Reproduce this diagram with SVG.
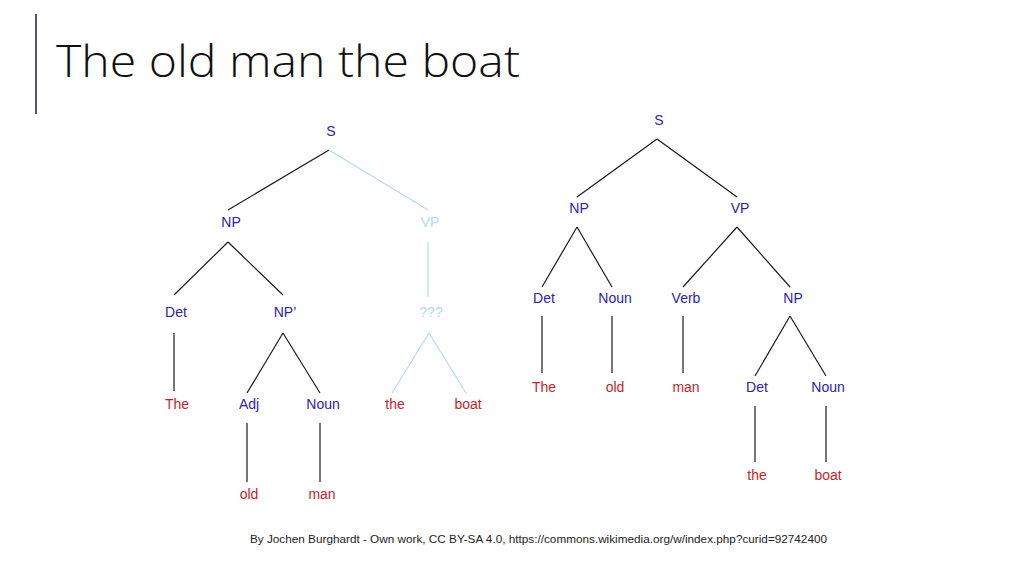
<svg xmlns="http://www.w3.org/2000/svg" width="1024" height="576" viewBox="0 0 1024 576">
<style>
.lbl{font-family:"Liberation Sans","DejaVu Sans",sans-serif;font-size:14px;text-anchor:middle}
.cat{fill:#2b22b4}
.word{fill:#c81e2a}
.ghost{fill:#b4dcea}
.e{stroke:#1a1a1a;stroke-width:1.2;fill:none}
.eg{stroke:#b4dcea;stroke-width:1.2;fill:none}
</style>
<rect width="1024" height="576" fill="#ffffff"/>
<line x1="36" y1="14" x2="36" y2="114" stroke="#58508e" stroke-width="2"/>
<text x="56" y="77" font-family="'Open Sans','Noto Sans',sans-serif" font-weight="350" font-size="44" fill="#111111" textLength="464" lengthAdjust="spacingAndGlyphs">The old man the boat</text>

<g id="connectors">
<!-- left tree -->
<line class="e" x1="329" y1="150" x2="228" y2="210"/>
<line class="eg" x1="329" y1="150" x2="428" y2="210"/>
<line class="e" x1="228" y1="242" x2="174" y2="295"/>
<line class="e" x1="228" y1="242" x2="283" y2="295"/>
<line class="eg" x1="428" y1="242" x2="428" y2="297"/>
<line class="e" x1="174" y1="333" x2="174" y2="391"/>
<line class="e" x1="283" y1="333" x2="247" y2="393"/>
<line class="e" x1="283" y1="333" x2="320" y2="393"/>
<line class="eg" x1="429" y1="333" x2="392" y2="393"/>
<line class="eg" x1="429" y1="333" x2="466" y2="393"/>
<line class="e" x1="247" y1="423" x2="247" y2="482"/>
<line class="e" x1="320" y1="423" x2="320" y2="482"/>
<!-- right tree -->
<line class="e" x1="657" y1="139" x2="577" y2="197"/>
<line class="e" x1="657" y1="139" x2="737" y2="197"/>
<line class="e" x1="577" y1="227" x2="542" y2="287"/>
<line class="e" x1="577" y1="227" x2="612" y2="287"/>
<line class="e" x1="737" y1="227" x2="683" y2="287"/>
<line class="e" x1="737" y1="227" x2="790" y2="287"/>
<line class="e" x1="542" y1="316" x2="542" y2="373"/>
<line class="e" x1="612" y1="316" x2="612" y2="373"/>
<line class="e" x1="683" y1="316" x2="683" y2="373"/>
<line class="e" x1="790" y1="316" x2="755" y2="376"/>
<line class="e" x1="790" y1="316" x2="826" y2="376"/>
<line class="e" x1="755" y1="406" x2="755" y2="462"/>
<line class="e" x1="826" y1="406" x2="826" y2="462"/>
</g>

<!-- left tree nodes -->
<g id="L-S"><text class="lbl cat" x="331" y="136">S</text></g>
<g id="L-NP"><text class="lbl cat" x="231" y="227">NP</text></g>
<g id="L-VP"><text class="lbl ghost" x="430" y="227">VP</text></g>
<g id="L-Det"><text class="lbl cat" x="176" y="317">Det</text></g>
<g id="L-NPp"><text class="lbl cat" x="285" y="317">NP’</text></g>
<g id="L-Q"><text class="lbl ghost" x="431" y="317">???</text></g>
<g id="L-The"><text class="lbl word" x="177" y="409">The</text></g>
<g id="L-Adj"><text class="lbl cat" x="249" y="409">Adj</text></g>
<g id="L-Noun"><text class="lbl cat" x="323" y="409">Noun</text></g>
<g id="L-the"><text class="lbl word" x="395" y="409">the</text></g>
<g id="L-boat"><text class="lbl word" x="468" y="409">boat</text></g>
<g id="L-old"><text class="lbl word" x="249" y="499">old</text></g>
<g id="L-man"><text class="lbl word" x="322" y="499">man</text></g>

<!-- right tree nodes -->
<g id="R-S"><text class="lbl cat" x="659" y="125">S</text></g>
<g id="R-NP"><text class="lbl cat" x="579" y="213">NP</text></g>
<g id="R-VP"><text class="lbl cat" x="740" y="213">VP</text></g>
<g id="R-Det"><text class="lbl cat" x="544" y="303">Det</text></g>
<g id="R-Noun"><text class="lbl cat" x="615" y="303">Noun</text></g>
<g id="R-Verb"><text class="lbl cat" x="686" y="303">Verb</text></g>
<g id="R-NP2"><text class="lbl cat" x="793" y="303">NP</text></g>
<g id="R-The"><text class="lbl word" x="544" y="392">The</text></g>
<g id="R-old"><text class="lbl word" x="615" y="392">old</text></g>
<g id="R-man"><text class="lbl word" x="686" y="392">man</text></g>
<g id="R-Det2"><text class="lbl cat" x="757" y="392">Det</text></g>
<g id="R-Noun2"><text class="lbl cat" x="828" y="392">Noun</text></g>
<g id="R-the"><text class="lbl word" x="757" y="480">the</text></g>
<g id="R-boat"><text class="lbl word" x="828" y="480">boat</text></g>

<text x="250" y="543" font-family="'Liberation Sans','DejaVu Sans',sans-serif" font-size="11" fill="#222222" textLength="577" lengthAdjust="spacingAndGlyphs">By Jochen Burghardt - Own work, CC BY-SA 4.0, https://commons.wikimedia.org/w/index.php?curid=92742400</text>
</svg>
